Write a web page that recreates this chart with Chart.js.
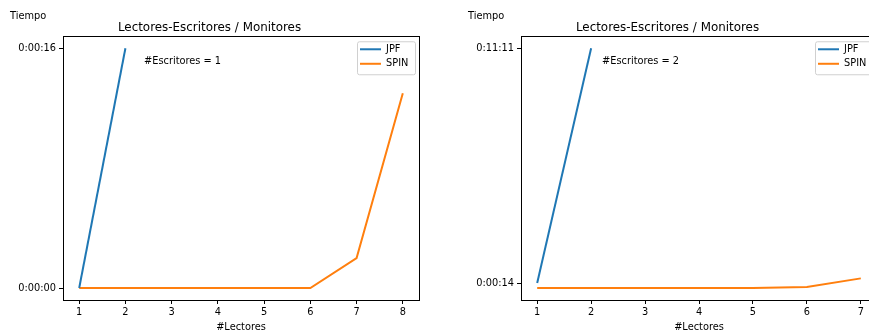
<!DOCTYPE html>
<html>
<head>
<meta charset="utf-8">
<script src="https://cdn.jsdelivr.net/npm/chart.js@4"></script>
<style>
  html, body { margin: 0; padding: 0; background: #fff; width: 869px; height: 335px; overflow: hidden; }
  .box { position: absolute; top: 0; width: 440px; height: 335px; }
</style>
</head>
<body>
<div class="box" style="left:0px"><canvas id="c1" width="440" height="335"></canvas></div>
<div class="box" style="left:458px"><canvas id="c2" width="440" height="335"></canvas></div>
<script>
// data, times in seconds
const lectores1 = [1, 2, 3, 4, 5, 6, 7, 8];
const jpf1 = [0, 16];
const spin1 = [0, 0, 0, 0, 0, 0, 2, 13];
const yTicks1 = [0, 16];

const lectores2 = [1, 2, 3, 4, 5, 6, 7];
const jpf2 = [14, 671];
const spin2 = [0, 0, 0, 0, 0, 3, 27];
const yTicks2 = [14, 671];

const titulo = 'Lectores-Escritores / Monitores';
const serieNames = ['JPF', 'SPIN'];
const colors = ['#1f77b4', '#ff7f0e'];
const FONT = "'DejaVu Sans', sans-serif";

function hms(sec) {
    const h = Math.floor(sec / 3600);
    const m = Math.floor((sec % 3600) / 60);
    const s = Math.round(sec % 60);
    return h + ':' + String(m).padStart(2, '0') + ':' + String(s).padStart(2, '0');
}

// matplotlib-ish frame, legend and texts
const extras = {
    id: 'extras',
    afterDraw(chart, args, opts) {
        const ctx = chart.ctx;
        const a = chart.chartArea;
        ctx.save();
        ctx.strokeStyle = '#000';
        ctx.lineWidth = 1;
        ctx.strokeRect(Math.round(a.left) + 0.5, Math.round(a.top) + 0.5,
            Math.round(a.right - a.left), Math.round(a.bottom - a.top));

        ctx.fillStyle = '#000';
        ctx.font = '9.8px ' + FONT;
        ctx.textBaseline = 'middle';
        ctx.textAlign = 'left';
        ctx.fillText('Tiempo', 10, 16);
        ctx.fillText(opts.note, a.left + 0.2275 * (a.right - a.left), a.top + 25);

        // legend box
        const lx = a.right - 62, ly = a.top + 5, lw = 58, lh = 33;
        ctx.fillStyle = 'rgba(255,255,255,0.8)';
        ctx.strokeStyle = '#d0d0d0';
        ctx.beginPath();
        ctx.roundRect(lx + 0.5, ly + 0.5, lw, lh, 2);
        ctx.fill();
        ctx.stroke();
        chart.data.datasets.forEach((ds, i) => {
            const yy = ly + 8 + i * 14.5;
            ctx.strokeStyle = ds.borderColor;
            ctx.lineWidth = 2;
            ctx.beginPath();
            ctx.moveTo(lx + 3, yy);
            ctx.lineTo(lx + 24, yy);
            ctx.stroke();
            ctx.fillStyle = '#000';
            ctx.fillText(ds.label, lx + 29, yy);
        });
        ctx.restore();
    }
};

function makeChart(id, xs, jpf, spin, yTicks, note) {
    const xpad = (xs[xs.length - 1] - xs[0]) * 0.05;
    const all = jpf.concat(spin);
    const ymin = Math.min(...all), ymax = Math.max(...all);
    const ypad = (ymax - ymin) * 0.05;
    return new Chart(document.getElementById(id), {
        type: 'line',
        data: {
            datasets: [
                { label: serieNames[0], data: jpf.map((v, i) => ({x: xs[i], y: v})), borderColor: colors[0] },
                { label: serieNames[1], data: spin.map((v, i) => ({x: xs[i], y: v})), borderColor: colors[1] }
            ]
        },
        options: {
            responsive: false,
            animation: false,
            layout: { padding: { left: 0, right: 21, top: 0, bottom: 0 } },
            elements: { line: { borderWidth: 2, tension: 0 }, point: { radius: 0 } },
            plugins: {
                legend: { display: false },
                tooltip: { enabled: false },
                title: {
                    display: true,
                    text: titulo,
                    color: '#000',
                    font: { family: FONT, size: 11.9, weight: 'normal' },
                    padding: { top: 20.5, bottom: 1.5 }
                },
                extras: { note: note }
            },
            scales: {
                x: {
                    type: 'linear',
                    min: xs[0] - xpad,
                    max: xs[xs.length - 1] + xpad,
                    afterBuildTicks: s => { s.ticks = xs.map(v => ({value: v})); },
                    afterFit: s => { s.height = 35; },
                    ticks: { color: '#000', font: { family: FONT, size: 9.8 }, padding: 3, maxRotation: 0 },
                    grid: { drawOnChartArea: false, tickLength: 4, color: '#000' },
                    border: { color: '#000' },
                    title: { display: true, text: '#Lectores', color: '#000', font: { family: FONT, size: 9.8 }, padding: { top: 0, bottom: 2 } }
                },
                y: {
                    type: 'linear',
                    min: ymin - ypad,
                    max: ymax + ypad,
                    afterBuildTicks: s => { s.ticks = yTicks.map(v => ({value: v})); },
                    afterFit: s => { s.width = 63; },
                    ticks: { color: '#000', font: { family: FONT, size: 9.8 }, padding: 3, callback: v => hms(v) },
                    grid: { drawOnChartArea: false, tickLength: 4, color: '#000' },
                    border: { color: '#000' }
                }
            }
        },
        plugins: [extras]
    });
}

makeChart('c1', lectores1, jpf1, spin1, yTicks1, '#Escritores = 1');
makeChart('c2', lectores2, jpf2, spin2, yTicks2, '#Escritores = 2');
</script>
</body>
</html>
